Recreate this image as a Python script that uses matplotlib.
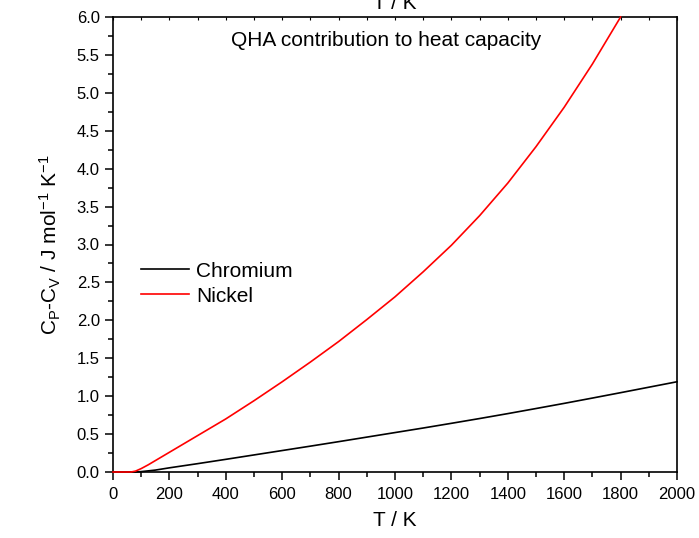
import matplotlib
matplotlib.use("Agg")
import matplotlib.pyplot as plt
from matplotlib.ticker import MultipleLocator, FormatStrFormatter

# valeurs
T_cr = [0, 50, 80, 100, 150, 200, 300, 400, 500, 600, 700, 800, 900, 1000,
        1100, 1200, 1300, 1400, 1500, 1600, 1700, 1800, 1900, 2000]
cp_cr = [0.0, 0.0, 0.0, 0.005, 0.025, 0.055, 0.11, 0.167, 0.225, 0.283, 0.341, 0.40, 0.46, 0.52,
         0.58, 0.642, 0.705, 0.77, 0.837, 0.905, 0.975, 1.046, 1.118, 1.19]

T_ni = [0, 50, 64, 80, 100, 125, 150, 200, 300, 400, 500, 600, 700, 800, 900, 1000,
        1100, 1200, 1300, 1400, 1500, 1600, 1700, 1800]
cp_ni = [0.0, 0.0, 0.0, 0.012, 0.045, 0.095, 0.15, 0.26, 0.48, 0.70, 0.94, 1.19, 1.45, 1.72, 2.01, 2.31,
         2.64, 2.99, 3.38, 3.81, 4.29, 4.81, 5.38, 6.0]

plt.rcParams["font.family"] = ["Liberation Sans", "DejaVu Sans"]
plt.rcParams["mathtext.fontset"] = "custom"
plt.rcParams["mathtext.rm"] = "Liberation Sans"
plt.rcParams["mathtext.it"] = "Liberation Sans"

fig = plt.figure(figsize=(6.99, 5.38), dpi=100)
ax = fig.add_axes([113 / 699, 1 - 472 / 538, 564 / 699, 455 / 538])

ax.plot(T_cr, cp_cr, color="black", lw=1.2, label="Chromium", clip_on=False, zorder=5)
ax.plot(T_ni, cp_ni, color="red", lw=1.2, label="Nickel", clip_on=False, zorder=6)

ax.set_xlim(0, 2000)
ax.set_ylim(0, 6)
ax.xaxis.set_major_locator(MultipleLocator(200))
ax.xaxis.set_minor_locator(MultipleLocator(100))
ax.yaxis.set_major_locator(MultipleLocator(0.5))
ax.yaxis.set_minor_locator(MultipleLocator(0.25))
ax.yaxis.set_major_formatter(FormatStrFormatter("%.1f"))

for s in ax.spines.values():
    s.set_linewidth(1.2)
ax.tick_params(which="major", direction="out", length=6, width=1.1, labelsize=12)
ax.tick_params(which="minor", direction="out", length=3.5, width=1.1)
ax.tick_params(axis="x", pad=5)

# petits ticks vers l'interieur en haut (sans etiquettes)
ax_top = ax.twiny()
ax_top.set_xlim(ax.get_xlim())
ax_top.xaxis.set_major_locator(MultipleLocator(100))
ax_top.tick_params(axis="x", direction="in", length=2, width=0.8, labeltop=False)
for s in ax_top.spines.values():
    s.set_visible(False)

ax.set_xlabel("T / K", fontsize=15, labelpad=6)
ax.set_ylabel(r"C$_\mathregular{P}$-C$_\mathregular{V}$ / J mol$^\mathregular{-1}$ K$^\mathregular{-1}$",
              fontsize=15, labelpad=10)
fig.text(395 / 699, 1 - 9 / 538, "T / K", fontsize=15, ha="center", va="baseline")

ax.text(0.485, 0.949, "QHA contribution to heat capacity", transform=ax.transAxes,
        fontsize=15, ha="center", va="center")

ax.legend(loc="center left", bbox_to_anchor=(0.05, 0.414), frameon=False, fontsize=15,
          borderpad=0, borderaxespad=0, handlelength=2.3, handletextpad=0.35, labelspacing=0.3)

fig.savefig("out.png", dpi=100)
